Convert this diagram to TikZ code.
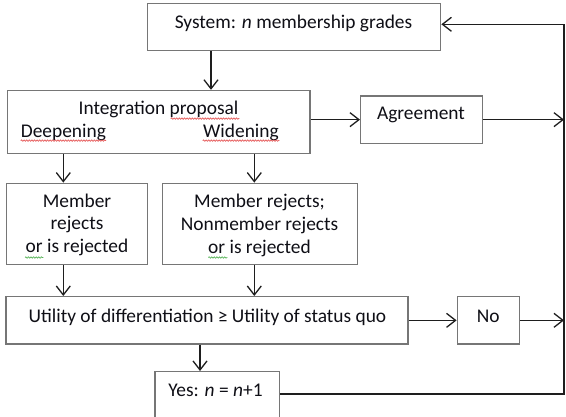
\documentclass[tikz,border=0pt]{standalone}
\usepackage{fontspec}
\setmainfont{Carlito}
\usetikzlibrary{arrows.meta,decorations.pathmorphing}
\definecolor{boxgray}{RGB}{118,118,118}
\definecolor{linecol}{RGB}{30,30,30}
\definecolor{txtcol}{RGB}{15,15,22}
\definecolor{squigred}{RGB}{230,90,90}
\definecolor{squiggreen}{RGB}{90,180,90}
\tikzset{
  flowbox/.style={draw=boxgray, line width=1.4pt, fill=white, inner sep=0pt},
  lbl/.style={anchor=base, inner sep=0pt, text=txtcol, font=\fontsize{19.4}{23}\selectfont},
  arr/.style={draw=linecol, line width=1.3pt, -{Straight Barb[length=9pt,width=14pt,line width=1.3pt]}},
  ln/.style={draw=linecol, line width=1.3pt},
  squig/.style={line width=0.7pt, decorate, decoration={snake, amplitude=0.7pt, segment length=2.6pt}},
}
\begin{document}
\begin{tikzpicture}[x=1pt,y=-1pt]
\clip (0,0) rectangle (566,417);
\fill[white] (0,0) rectangle (566,417);
% boxes
\node[flowbox, minimum width=293.4pt, minimum height=47.4pt] (sys)  at (294.0,27.0) {};
\node[flowbox, minimum width=302.7pt, minimum height=62.8pt] (int)  at (158.65,121.9) {};
\node[flowbox, minimum width=122.0pt, minimum height=47.3pt] (agr)  at (421.7,119.65) {};
\node[flowbox, minimum width=141.0pt, minimum height=81.0pt] (mem)  at (77.2,223.8) {};
\node[flowbox, minimum width=195.0pt, minimum height=81.0pt] (nm)   at (260.2,223.8) {};
\node[flowbox, minimum width=402.0pt, minimum height=47.3pt] (util) at (207.0,320.35) {};
\node[flowbox, minimum width=62.0pt,  minimum height=47.3pt] (no)   at (488.3,320.35) {};
\node[flowbox, minimum width=124.3pt, minimum height=60pt]   (yes)  at (217.15,401.7) {};
% texts
\node[lbl] (tsys) at (293.5,29) {System: \textit{n} membership grades};
\node[lbl] (tint) at (158.5,115) {Integration proposal};
\node[lbl, anchor=base west] (tdeep) at (20.7,137.3) {Deepening};
\node[lbl, anchor=base west] (twid) at (203,137.3) {Widening};
\node[lbl] (tagr) at (421,119.3) {Agreement};
\node[lbl] (tm1) at (77,207.3) {Member};
\node[lbl] (tm2) at (77,230.0) {rejects};
\node[lbl] (tm3) at (77,252.7) {or is rejected};
\node[lbl] (tn1) at (259.5,208.0) {Member rejects;};
\node[lbl] (tn2) at (259.5,230.7) {Nonmember rejects};
\node[lbl] (tn3) at (259.5,253.4) {or is rejected};
\node[lbl] (tutil) at (207.5,322.3) {Utility of differentiation ≥ Utility of status quo};
\node[lbl] (tno) at (488.3,322.7) {No};
\node[lbl] (tyes) at (215.5,396) {Yes: \textit{n} = \textit{n}+1};
% spell-check squiggles
\draw[squig, draw=squigred] (170.7,118.6) -- (239.3,118.6);
\draw[squig, draw=squigred] (20.7,140.6) -- (106,140.6);
\draw[squig, draw=squigred] (202.7,140.6) -- (279.3,140.6);
\draw[squig, draw=squiggreen] (25,257.5) -- (43.3,257.5);
\draw[squig, draw=squiggreen] (208.3,257.5) -- (227.3,257.5);
% helper coordinates
\coordinate (xs) at (211,0);
\coordinate (xa) at (63.3,0);
\coordinate (xb) at (254.3,0);
\coordinate (xc) at (200,0);
\coordinate (ry) at (564,394);
\coordinate (rt) at (564,24.3);
% connectors
\draw[arr] (sys.south -| xs) -- (int.north -| xs);
\draw[arr] (int.east |- agr) -- (agr.west);
\draw[arr] (agr.east) -- (agr.east -| ry);
\draw[arr] (int.south -| xa) -- (mem.north -| xa);
\draw[arr] (int.south -| xb) -- (nm.north -| xb);
\draw[arr] (mem.south -| xa) -- (util.north -| xa);
\draw[arr] (nm.south -| xb) -- (util.north -| xb);
\draw[arr] (util.east) -- (no.west);
\draw[arr] (no.east) -- (no.east -| ry);
\draw[arr] (util.south -| xc) -- (yes.north -| xc);
\draw[arr] (yes.east |- ry) -- (ry) -- (rt) -- (sys.east |- rt);
\end{tikzpicture}
\end{document}
